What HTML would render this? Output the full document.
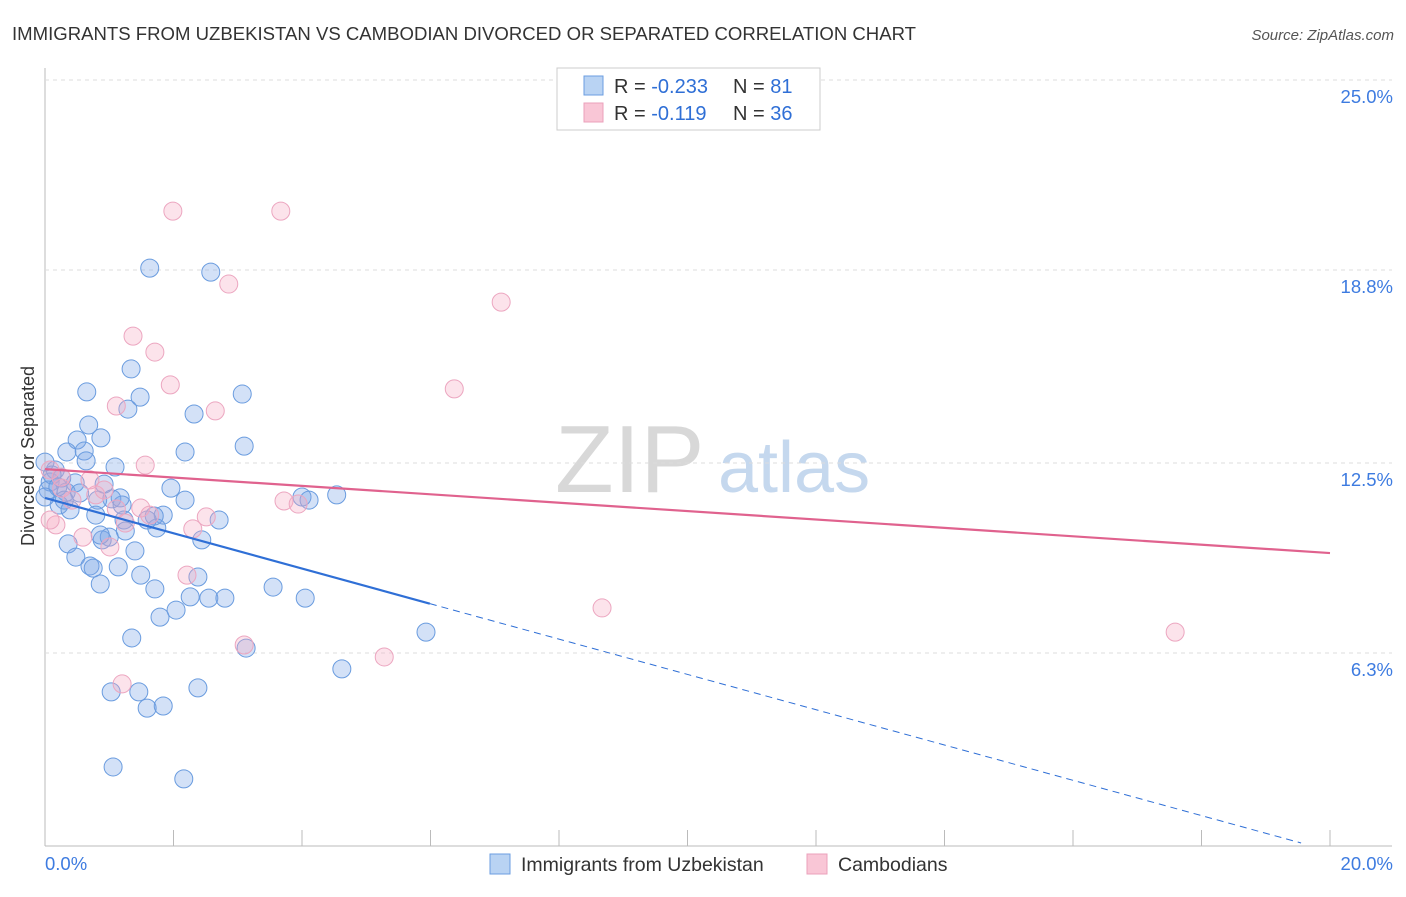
<!DOCTYPE html>
<html><head><meta charset="utf-8"><style>
body{margin:0;background:#fff;font-family:"Liberation Sans",sans-serif;}
svg text{font-family:"Liberation Sans",sans-serif;}
</style></head><body>
<svg id="c" width="1406" height="892" xmlns="http://www.w3.org/2000/svg">
<text x="12" y="40" font-size="18" fill="#333" textLength="904" lengthAdjust="spacingAndGlyphs">IMMIGRANTS FROM UZBEKISTAN VS CAMBODIAN DIVORCED OR SEPARATED CORRELATION CHART</text>
<text x="1394" y="40" font-size="15" fill="#555" font-style="italic" text-anchor="end">Source: ZipAtlas.com</text>
<text x="555" y="492" font-size="96" fill="#d8d8d8" font-family="Liberation Serif">ZIP</text>
<text x="718" y="492" font-size="72" fill="#c5d8ee">atlas</text>
<text transform="translate(34,456) rotate(-90)" font-size="18" fill="#333" text-anchor="middle">Divorced or Separated</text>
<g id="grid"></g><g id="pts"></g><g id="lines"></g>
<g>
<rect x="557" y="68" width="263" height="62" fill="#fff" stroke="#ccc"/>
<rect x="584" y="76" width="19" height="19" fill="#b9d3f3" stroke="#6b9ee0"/>
<rect x="584" y="103" width="19" height="19" fill="#f9c6d6" stroke="#eba0bb"/>
<text x="614" y="93" font-size="20" fill="#333">R = <tspan fill="#2f6fd6">-0.233</tspan><tspan x="733">N = </tspan><tspan fill="#2f6fd6">81</tspan></text>
<text x="614" y="120" font-size="20" fill="#333">R = <tspan fill="#2f6fd6"> -0.119</tspan><tspan x="733">N = </tspan><tspan fill="#2f6fd6">36</tspan></text>
</g>
<g>
<rect x="490" y="854" width="20" height="20" fill="#b9d3f3" stroke="#6b9ee0"/>
<text x="521" y="871" font-size="19.5" fill="#333">Immigrants from Uzbekistan</text>
<rect x="807" y="854" width="20" height="20" fill="#f9c6d6" stroke="#eba0bb"/>
<text x="838" y="871" font-size="19.5" fill="#333">Cambodians</text>
</g>
</svg>
<script>
const xTicks=[0,20];
const yTicks=[6.3,12.5,18.8,25.0];
const blueX=[1.63,2.58,1.34,0.65,1.48,3.07,1.29,2.32,0.68,0.87,0.50,3.10,0.34,0.61,2.18,0.64,1.09,0.16,0.26,0.08,0.47,0.92,1.96,0.05,0.33,0.54,1.04,0.82,0.22,0.39,1.20,0.79,1.84,1.23,2.71,1.70,1.74,4.00,4.11,4.54,1.25,1.00,2.44,0.36,0.89,1.40,0.48,0.70,1.14,0.75,1.49,2.38,0.86,1.71,3.55,2.26,2.55,2.80,4.05,2.04,1.79,1.35,3.13,5.93,4.62,1.03,2.38,1.46,1.59,1.84,1.06,2.16,0.00,0.11,0.20,0.30,0.00,0.86,1.17,1.59,2.18];
const blueY=[18.86,18.73,15.57,14.82,14.65,14.75,14.26,14.10,13.74,13.32,13.25,13.05,12.86,12.89,12.86,12.57,12.37,12.27,12.01,11.88,11.85,11.81,11.68,11.62,11.55,11.52,11.33,11.29,11.13,10.97,11.13,10.80,10.80,10.64,10.64,10.77,10.38,11.39,11.29,11.46,10.28,10.08,9.99,9.86,9.99,9.63,9.43,9.14,9.11,9.07,8.84,8.78,8.55,8.39,8.45,8.13,8.09,8.09,8.09,7.70,7.47,6.79,6.46,6.98,5.78,5.03,5.16,5.03,4.50,4.57,2.58,2.19,12.53,12.11,11.72,11.29,11.39,10.15,11.36,10.64,11.29];
const pinkX=[1.99,3.67,2.86,7.10,1.37,1.71,1.95,6.37,1.11,2.65,1.56,0.08,0.25,0.79,0.42,1.11,1.49,3.72,3.94,1.63,2.51,1.25,2.30,0.17,0.59,1.01,2.21,8.67,17.59,3.10,5.28,1.20,0.26,0.70,0.92,0.08];
const pinkY=[20.72,20.72,18.34,17.75,16.64,16.12,15.05,14.92,14.36,14.20,12.43,12.27,12.04,11.46,11.29,11.00,11.03,11.26,11.16,10.80,10.74,10.54,10.35,10.48,10.08,9.76,8.84,7.77,6.98,6.56,6.17,5.29,11.68,11.95,11.62,10.64];
const blueTrend=[11.36,-0.576];
const pinkTrend=[12.30,9.56];
const X0=45,X1=1330,Y0=846,PX_PER_Y=30.64;
const sx=v=>X0+(X1-X0)*v/20;
const sy=v=>Y0-v*PX_PER_Y;
const NS="http://www.w3.org/2000/svg";
function mk(t,a,p){const e=document.createElementNS(NS,t);for(const k in a)e.setAttribute(k,a[k]);p.appendChild(e);return e;}
const grid=document.getElementById('grid');
let ax=mk('line',{x1:X0,y1:68,x2:X0,y2:Y0,stroke:'#bbb'},grid);


let bx=mk('line',{x1:X0,y1:Y0,x2:1392,y2:Y0,stroke:'#bbb'},grid);


for(let i=0;i<=10;i++){const x=sx(i*2);const t=mk('line',{x1:x,y1:830,x2:x,y2:Y0,stroke:'#bbb'},grid);

}
yTicks.forEach(v=>{const y=sy(v);const g=mk('line',{x1:X0,y1:y,x2:1392,y2:y,stroke:'#ddd','stroke-dasharray':'4,4'},grid);


const t=mk('text',{x:1393,y:y+23,'font-size':18.5,fill:'#3d7be0','text-anchor':'end'},grid);t.textContent=v.toFixed(1)+'%';

});
xTicks.forEach((v,i)=>{const t=mk('text',{x:i?1393:45,y:870,'font-size':18.5,fill:'#3d7be0','text-anchor':i?'end':'start'},grid);t.textContent=v.toFixed(1)+'%';

});
const pts=document.getElementById('pts');
blueX.forEach((v,i)=>{const c=mk('circle',{cx:sx(v),cy:sy(blueY[i]),r:9,fill:'rgba(120,165,230,0.33)',stroke:'#6a9cdf','stroke-width':1},pts);

});
pinkX.forEach((v,i)=>{const c=mk('circle',{cx:sx(v),cy:sy(pinkY[i]),r:9,fill:'rgba(245,170,195,0.33)',stroke:'#eca6c0','stroke-width':1},pts);

});
const lines=document.getElementById('lines');
const bY=x=>blueTrend[0]+blueTrend[1]*x;
let l1=mk('line',{x1:sx(0),y1:sy(bY(0)),x2:sx(5.99),y2:sy(bY(5.99)),stroke:'#2f6fd6','stroke-width':2.2},lines);


let l2=mk('line',{x1:sx(5.99),y1:sy(bY(5.99)),x2:sx(19.55),y2:sy(bY(19.55)),stroke:'#2f6fd6','stroke-width':1,'stroke-dasharray':'7,5'},lines);


let l3=mk('line',{x1:sx(0),y1:sy(pinkTrend[0]),x2:sx(20),y2:sy(pinkTrend[1]),stroke:'#e0628e','stroke-width':2.2},lines);


</script>
</body></html>
